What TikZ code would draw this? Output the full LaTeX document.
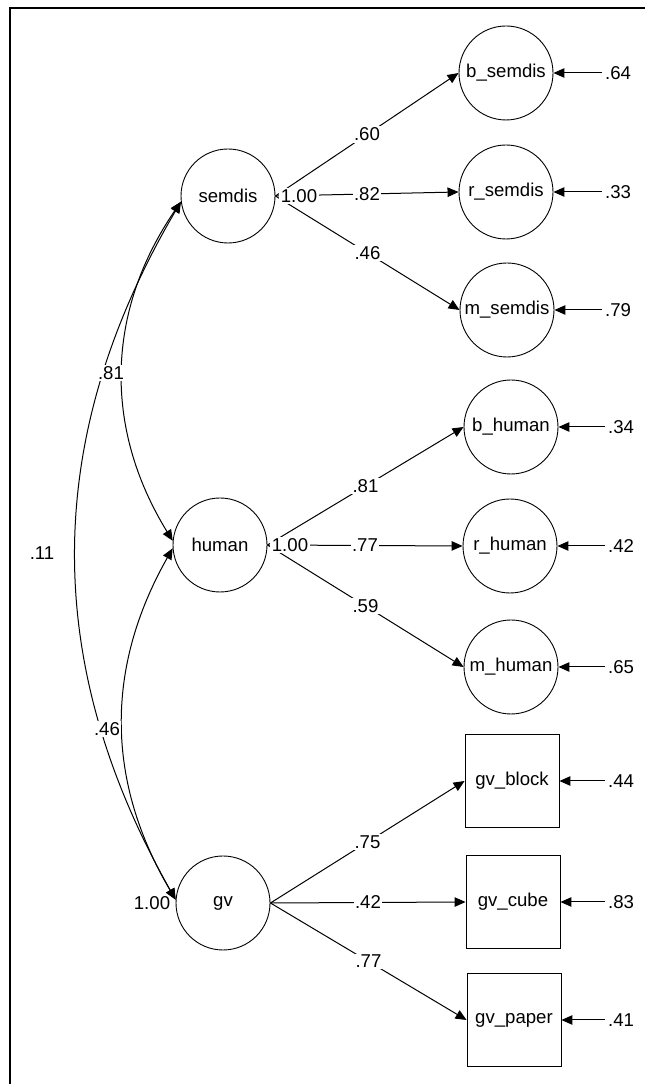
\documentclass[tikz,border=0pt]{standalone}
\usepackage{fontspec}
\setmainfont{Liberation Sans}
\usetikzlibrary{arrows.meta}
\tikzset{
  latent/.style={circle,draw,line width=0.9pt,minimum size=94pt,inner sep=0pt},
  manifest/.style={rectangle,draw,line width=0.9pt,minimum width=94pt,minimum height=93pt,inner sep=0pt},
  load/.style={line width=1pt,-{Triangle[length=11pt,width=9.5pt]}},
  cov/.style={line width=1pt,{Triangle[length=11pt,width=9.5pt]}-{Triangle[length=11pt,width=9.5pt]}},
  lbl/.style={fill=white,inner sep=1.5pt},
  res/.style={inner sep=3pt},
}
\begin{document}
\begin{tikzpicture}[x=1pt,y=1pt,every node/.style={font=\fontsize{18.6pt}{22pt}\selectfont}]
    \useasboundingbox (0,0) rectangle (645,1084);
    \draw[line width=2.7pt] (10,-10) -- (10,1076) -- (660,1076);
    % factors
    \node[latent] (semdis) at (228,888) {semdis};
    \node[latent] (human) at (220,539) {human};
    \node[latent] (gv) at (223,181) {gv};
    % indicators
    \node[latent] (bsemdis) at (506,1011) {b\_semdis};
    \node[latent] (rsemdis) at (506,892) {r\_semdis};
    \node[latent] (msemdis) at (507,774) {m\_semdis};
    \node[latent] (bhuman) at (511,657) {b\_human};
    \node[latent] (rhuman) at (510,538) {r\_human};
    \node[latent] (mhuman) at (511,417) {m\_human};
    \node[manifest] (gvblock) at (512,303) {gv\_block};
    \node[manifest] (gvcube) at (513,182) {gv\_cube};
    \node[manifest] (gvpaper) at (514,64) {gv\_paper};
    % loadings
    \draw[load] (semdis.east) -- (bsemdis.west) node[midway,lbl] {.60};
    \draw[load] (semdis.east) -- (rsemdis.west) node[midway,lbl] {.82};
    \draw[load] (semdis.east) -- (msemdis.west) node[midway,lbl] {.46};
    \draw[load] (human.east) -- (bhuman.west) node[midway,lbl] {.81};
    \draw[load] (human.east) -- (rhuman.west) node[midway,lbl] {.77};
    \draw[load] (human.east) -- (mhuman.west) node[midway,lbl] {.59};
    \draw[load] (gv.east) -- (gvblock.west) node[midway,lbl] {.75};
    \draw[load] (gv.east) -- (gvcube.west) node[midway,lbl] {.42};
    \draw[load] (gv.east) -- (gvpaper.west) node[midway,lbl] {.77};
    \node[lbl] (vsemdis) at (299,888) {1.00};
    \node[lbl] (vhuman) at (290,539) {1.00};
    \node (vgv) at (152,181) {1.00};
    % residuals
    \node[res] (e1) at (618,1011) {.64};
    \node[res] (e2) at (618,892) {.33};
    \node[res] (e3) at (618,774) {.79};
    \node[res] (e4) at (621,657) {.34};
    \node[res] (e5) at (621,538) {.42};
    \node[res] (e6) at (621,417) {.65};
    \node[res] (e7) at (621,303) {.44};
    \node[res] (e8) at (621,182) {.83};
    \node[res] (e9) at (621,64) {.41};
    \draw[load] (e1.west) -- (bsemdis.east);
    \draw[load] (e2.west) -- (rsemdis.east);
    \draw[load] (e3.west) -- (msemdis.east);
    \draw[load] (e4.west) -- (bhuman.east);
    \draw[load] (e5.west) -- (rhuman.east);
    \draw[load] (e6.west) -- (mhuman.east);
    \draw[load] (e7.west) -- (gvblock.east);
    \draw[load] (e8.west) -- (gvcube.east);
    \draw[load] (e9.west) -- (gvpaper.east);
    % covariances
    \draw[cov] (semdis.187) to[bend right=30] (gv.176);
    \draw[cov] (semdis.187) to[bend right=33] (human.175);
    \draw[cov] (human.184) to[bend right=30] (gv.176);
    \node[lbl] (c1) at (111,711) {.81};
    \node[lbl] (c2) at (107,355) {.46};
    \node (c3) at (42,531) {.11};
\end{tikzpicture}
\end{document}
